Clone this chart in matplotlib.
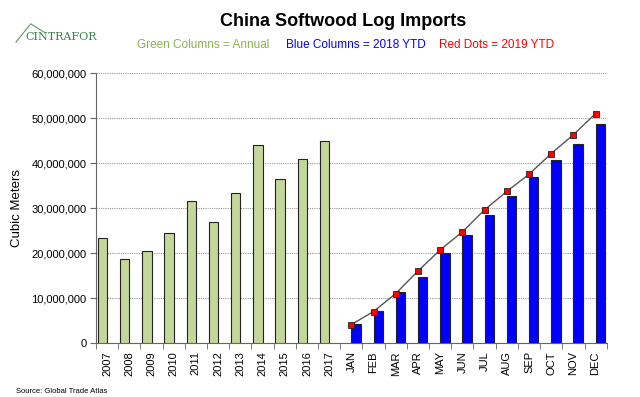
import numpy as np
import matplotlib.pyplot as plt
from matplotlib.ticker import FuncFormatter
from matplotlib.lines import Line2D

plt.rcParams["font.family"] = ["Liberation Sans", "DejaVu Sans"]

# Data (cubic meters)
years = ["2007", "2008", "2009", "2010", "2011", "2012", "2013", "2014", "2015", "2016", "2017"]
annual = [23.3e6, 18.6e6, 20.4e6, 24.4e6, 31.6e6, 26.9e6, 33.3e6, 44.1e6, 36.5e6, 40.8e6, 45.0e6]

months = ["JAN", "FEB", "MAR", "APR", "MAY", "JUN", "JUL", "AUG", "SEP", "OCT", "NOV", "DEC"]
ytd_2018 = [4.2e6, 7.1e6, 11.4e6, 14.6e6, 19.9e6, 24.1e6, 28.5e6, 32.7e6, 36.8e6, 40.6e6, 44.3e6, 48.7e6]
ytd_2019 = [4.1e6, 7.0e6, 11.0e6, 16.0e6, 20.7e6, 24.7e6, 29.6e6, 33.7e6, 37.5e6, 42.1e6, 46.3e6, 51.0e6]

labels = years + months
x_years = np.arange(len(years))
x_months = np.arange(len(years), len(labels))

fig = plt.figure(figsize=(6.4, 3.97), dpi=100)
ax = fig.add_axes([0.15, 0.136, 0.798, 0.68])

bw = 0.42
ax.bar(x_years, annual, width=-bw, align="edge", color="#C4D79B",
       edgecolor="#222222", linewidth=0.8, zorder=3)
ax.bar(x_months, ytd_2018, width=bw, align="edge", color="#0000FF",
       edgecolor="#222222", linewidth=0.8, zorder=3)
ax.plot(x_months, ytd_2019, color="#555555", linewidth=1.0, marker="s",
        markersize=4.5, markerfacecolor="#FF0000", markeredgecolor="#222222",
        markeredgewidth=0.6, zorder=4)

ax.set_xlim(-0.5, len(labels) - 0.5)
ax.set_ylim(0, 60e6)
ax.set_yticks(np.arange(0, 60e6 + 1, 10e6))
ax.yaxis.set_major_formatter(FuncFormatter(lambda v, p: f"{int(v):,}"))
ax.grid(axis="y", linestyle=(0, (1, 1)), color="#999999", linewidth=0.8, zorder=0)

ax.set_xticks(np.arange(len(labels)))
ax.set_xticklabels(labels, rotation=90, fontsize=8)
ax.tick_params(axis="x", length=0, pad=6)
ax.set_xticks(np.arange(-0.5, len(labels)), minor=True)
ax.tick_params(axis="x", which="minor", length=4, color="#666666")
ax.tick_params(axis="y", labelsize=8, length=4, color="#666666", pad=3)

for s in ["top", "right"]:
    ax.spines[s].set_visible(False)
for s in ["left", "bottom"]:
    ax.spines[s].set_color("#666666")

ax.set_ylabel("Cubic Meters", fontsize=9.5, labelpad=6)

fig.text(0.536, 0.947, "China Softwood Log Imports", ha="center", va="center",
         fontsize=13, fontweight="bold")
fig.text(0.214, 0.887, "Green Columns = Annual", color="#8DB050", fontsize=8.5, va="center")
fig.text(0.447, 0.887, "Blue Columns = 2018 YTD", color="#0000FF", fontsize=8.5, va="center")
fig.text(0.686, 0.887, "Red Dots = 2019 YTD", color="#FF0000", fontsize=8.5, va="center")

# logo
fig.text(0.039, 0.907, "CINTRAFOR", color="#3E7D4A", fontsize=8, family="DejaVu Serif",
         va="center")
fig.add_artist(Line2D([0.025, 0.048, 0.07], [0.894, 0.94, 0.918],
                      transform=fig.transFigure, color="#5F9A64", linewidth=0.8))

fig.text(0.025, 0.015, "Source: Global Trade Atlas", fontsize=5.5, va="center")

fig.savefig("out.png", dpi=100)
